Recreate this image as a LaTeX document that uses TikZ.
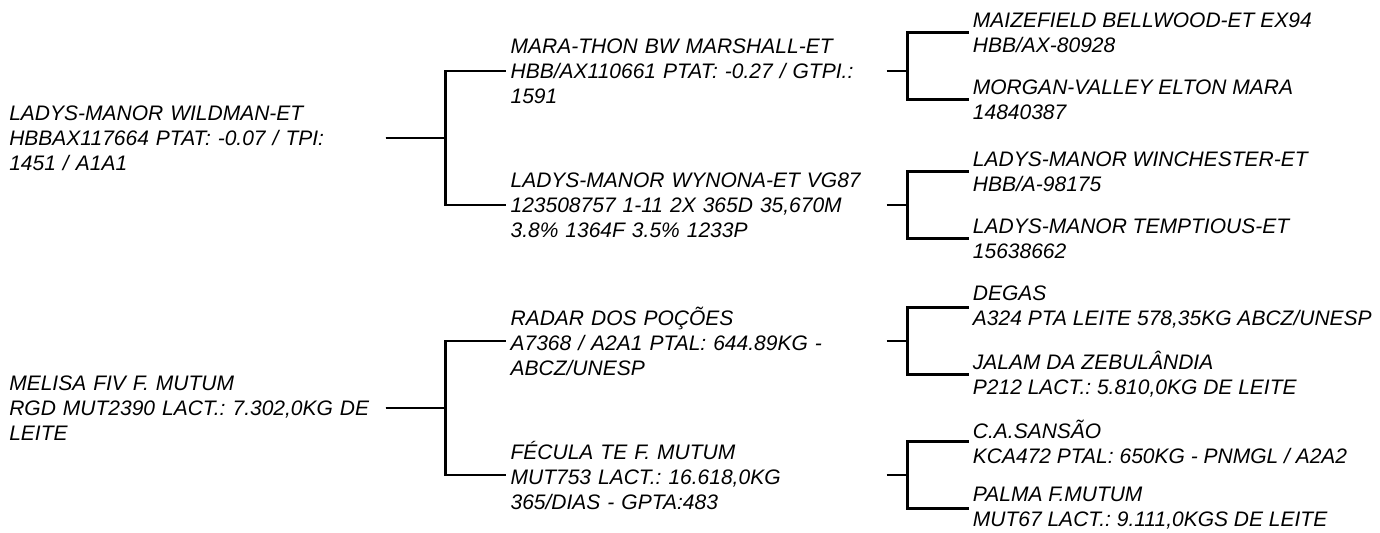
\documentclass[tikz,border=0pt]{standalone}
\usepackage{fontspec}
\setmainfont{Liberation Sans}
\frenchspacing

\begin{document}
\begin{tikzpicture}[every node/.style = {anchor=west, align=left, inner xsep=1.5pt, inner ysep=0pt,
             font=\itshape\fontsize{10.5}{12.5}\selectfont},
             wide/.style={text width=186pt},
             grow'=right, line width=1.3pt,
             level 1/.style={level distance=155.5pt, sibling distance=67pt},
             level 2/.style={level distance=136pt, sibling distance=33.5pt},
             edge from parent path={(\tikzparentnode.east) -| ([xshift=-30.5pt]\tikzchildnode.west)
               -- (\tikzchildnode.west)}]
\useasboundingbox (0,0) rectangle (690pt,-266.5pt);

% sire side
\node[wide] (wildman) at (2.5pt,-69pt) {LADYS-MANOR WILDMAN-ET\\HBBAX117664 PTAT: -0.07 / TPI:\\1451 / A1A1}
  child {node[wide] (marathon) {MARA-THON BW MARSHALL-ET\\HBB/AX110661 PTAT: -0.27 / GTPI.:\\1591}
    child {node[yshift=2.5pt] (maizefield) {MAIZEFIELD BELLWOOD-ET EX94\\HBB/AX-80928}}
    child {node[yshift=2.5pt] (morgan) {MORGAN-VALLEY ELTON MARA\\14840387}}
  }
  child {node[wide] (wynona) {LADYS-MANOR WYNONA-ET VG87\\123508757 1-11 2X 365D 35,670M\\3.8\% 1364F 3.5\% 1233P}
    child {node (winchester) {LADYS-MANOR WINCHESTER-ET\\HBB/A-98175}}
    child {node (temptious) {LADYS-MANOR TEMPTIOUS-ET\\15638662}}
  };

% dam side
\node[wide] (melisa) at (2.5pt,-204pt) {MELISA FIV F. MUTUM\\RGD MUT2390 LACT.: 7.302,0KG DE\\LEITE}
  child {node[wide] (radar) {RADAR DOS POÇÕES\\A7368 / A2A1 PTAL: 644.89KG -\\ABCZ/UNESP}
    child {node (degas) {DEGAS\\A324 PTA LEITE 578,35KG ABCZ/UNESP}}
    child {node (jalam) {JALAM DA ZEBULÂNDIA\\P212 LACT.: 5.810,0KG DE LEITE}}
  }
  child {node[wide] (fecula) {FÉCULA TE F. MUTUM\\MUT753 LACT.: 16.618,0KG\\365/DIAS - GPTA:483}
    child {node (sansao) {C.A.SANSÃO\\KCA472 PTAL: 650KG - PNMGL / A2A2}}
    child {node (palma) {PALMA F.MUTUM\\MUT67 LACT.: 9.111,0KGS DE LEITE}}
  };
\end{tikzpicture}
\end{document}
